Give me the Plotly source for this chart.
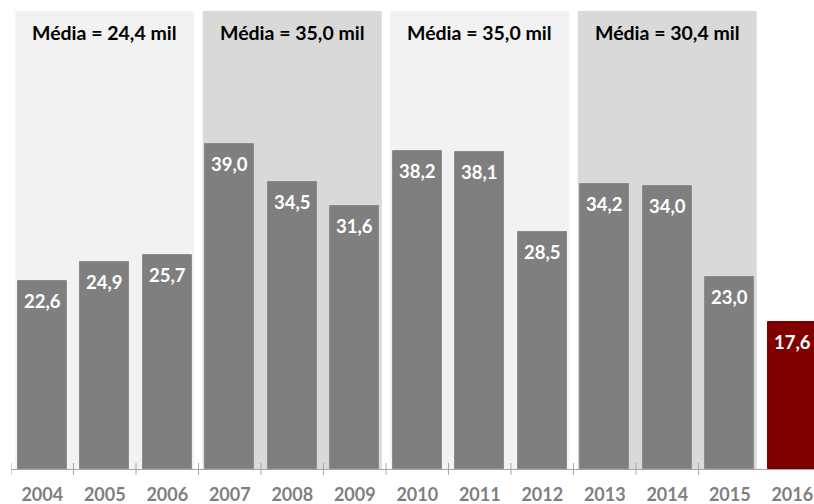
import plotly.graph_objects as go

years = ["2004", "2005", "2006", "2007", "2008", "2009", "2010", "2011", "2012",
         "2013", "2014", "2015", "2016"]
values = [22.6, 24.9, 25.7, 39.0, 34.5, 31.6, 38.2, 38.1, 28.5, 34.2, 34.0, 23.0, 17.6]
value_labels = ["22,6", "24,9", "25,7", "39,0", "34,5", "31,6", "38,2", "38,1", "28,5",
                "34,2", "34,0", "23,0", "17,6"]
group_starts = [0, 3, 6, 9]
group_ends = [2, 5, 8, 11]
group_labels = ["Média = 24,4 mil", "Média = 35,0 mil", "Média = 35,0 mil", "Média = 30,4 mil"]
group_fills = ["#f2f2f2", "#d9d9d9", "#f2f2f2", "#d9d9d9"]

FONT = "Lato"
x = list(range(len(years)))
colors = ["#7f7f7f"] * (len(years) - 1) + ["#800000"]
line_colors = ["#8c8c8c"] * (len(years) - 1) + ["#800000"]

fig = go.Figure()
fig.add_trace(go.Bar(
    x=x, y=values, width=0.78,
    marker=dict(color=colors, line=dict(color=line_colors, width=1)),
    hoverinfo="skip",
))

shapes = []
for s, e, c in zip(group_starts, group_ends, group_fills):
    shapes.append(dict(type="rect", xref="x", yref="y", x0=s - 0.432, x1=e + 0.432,
                       y0=0, y1=55, fillcolor=c, line=dict(width=0), layer="below"))
for k in range(len(years) - 1):
    shapes.append(dict(type="line", xref="x", yref="paper", ysizemode="pixel", yanchor=0,
                       x0=k - 0.5, x1=k - 0.5, y0=-6, y1=6,
                       line=dict(color="#a6a6a6", width=1)))

annotations = []
for s, e, t in zip(group_starts, group_ends, group_labels):
    annotations.append(dict(x=(s + e) / 2, y=52.4, xref="x", yref="y", text=t,
                            showarrow=False, yanchor="middle",
                            font=dict(family=FONT, size=19.5, color="#000000", weight="bold")))
for xi, v, t in zip(x, values, value_labels):
    annotations.append(dict(x=xi, y=v, xref="x", yref="y", text=t, showarrow=False,
                            yanchor="top", yshift=-7,
                            font=dict(family=FONT, size=18.5, color="#ffffff", weight="bold")))

fig.update_layout(
    width=814, height=504,
    margin=dict(l=11, r=0, t=11, b=35, autoexpand=False),
    paper_bgcolor="white", plot_bgcolor="white",
    showlegend=False,
    shapes=shapes, annotations=annotations,
    bargap=0,
    xaxis=dict(range=[-0.5, -0.5 + 803 / 62.5], tickmode="array", tickvals=x, ticktext=years,
               showgrid=False, zeroline=False, showline=True, linecolor="#a6a6a6", linewidth=1,
               ticks="", ticklabelstandoff=9, automargin=False,
               tickfont=dict(family=FONT, size=18, color="#7f7f7f", weight="bold")),
    yaxis=dict(range=[0, 55], visible=False, showgrid=False, zeroline=False, automargin=False),
)

fig.write_html("out.html")
